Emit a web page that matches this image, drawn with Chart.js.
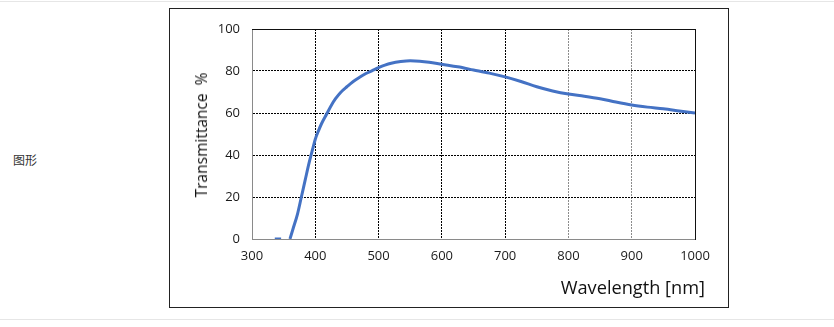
<!DOCTYPE html>
<html>
<head>
<meta charset="utf-8">
<script src="https://cdn.jsdelivr.net/npm/chart.js@4/dist/chart.umd.min.js"></script>
<style>
  body { margin: 0; background: #fff; width: 834px; height: 327px; position: relative; overflow: hidden; font-family: "Open Sans", "Noto Sans", sans-serif; }
  .rule { position: absolute; left: 0; width: 834px; height: 1px; background: #e6e6e6; }
  #label { position: absolute; left: 13px; top: 151px; font: 12px "Noto Sans CJK SC", sans-serif; color: #333; }
  #box { position: absolute; left: 169px; top: 8px; width: 558px; height: 298px; border: 1px solid #222; }
  #box canvas { position: absolute; left: 0; top: 0; }
  .ytitle { position: absolute; left: 31px; top: 126px; transform: translate(-50%, -50%) rotate(-90deg); white-space: nowrap; font-size: 15.5px; color: #111; }
  .xtitle { position: absolute; right: 23px; top: 268px; line-height: 20px; font-size: 18.2px; color: #111; white-space: nowrap; }
</style>
</head>
<body>
<div class="rule" style="top:1px"></div>
<div class="rule" style="top:319px"></div>
<div id="label">图形</div>
<div id="box">
  <canvas id="chart" width="558" height="298"></canvas>
  <div class="ytitle">Transmittance&nbsp; %</div>
  <div class="xtitle">Wavelength [nm]</div>
</div>
<script>
// transmittance curve
const wavelengths = [336, 346, 350, 360, 365, 372, 378, 384, 390, 396, 400, 405, 410, 418, 425, 432, 440, 450, 460, 470, 480, 490, 500, 510, 520, 535, 550, 565, 580, 600, 625, 650, 675, 700, 725, 750, 775, 800, 825, 850, 875, 900, 925, 950, 975, 1000];
const transmittance = [0, 0, null, 0, 5, 12, 20, 28, 36, 43, 47.5, 51.5, 55, 59.5, 63.5, 66.8, 69.8, 72.5, 75, 77, 78.8, 80.2, 81.6, 82.8, 83.7, 84.5, 84.9, 84.7, 84.2, 83.2, 82, 80.5, 79, 77.2, 75, 72.5, 70.5, 69, 68, 66.8, 65.2, 63.8, 62.8, 62, 61, 60];
const xTicks = [300, 400, 500, 600, 700, 800, 900, 1000];
const yTicks = [0, 20, 40, 60, 80, 100];

const points = wavelengths.map((w, i) => ({ x: w, y: transmittance[i] }));
const tickFont = { family: "'Open Sans', 'Noto Sans', sans-serif", size: 13 };

function gridColor(edges) {
  return ctx => {
    const v = ctx.tick && ctx.tick.value;
    if (edges.includes(v)) return "rgba(0,0,0,0)";
    if (v === 800 || v === 900) return "rgba(0,0,0,0.45)";
    return "#000";
  };
}

new Chart(document.getElementById("chart").getContext("2d"), {
  type: "line",
  data: {
    datasets: [{
      data: points,
      borderColor: "#4472c4",
      borderWidth: 3,
      pointRadius: 0,
      cubicInterpolationMode: "monotone",
      spanGaps: false
    }]
  },
  options: {
    responsive: false,
    animation: false,
    layout: { padding: { top: 20, right: 33, bottom: 0, left: 0 } },
    plugins: { legend: { display: false }, tooltip: { enabled: false } },
    scales: {
      x: {
        type: "linear",
        min: xTicks[0],
        max: xTicks[xTicks.length - 1],
        afterBuildTicks: s => { s.ticks = xTicks.map(v => ({ value: v })); },
        afterFit: s => { s.height = 68; },
        ticks: { font: tickFont, color: "#1a1a1a", padding: 9, callback: v => String(v) },
        grid: { color: gridColor([300, 1000]), lineWidth: 1, drawTicks: false },
        border: { color: "#8a8a8a", width: 1, dash: [2, 1] }
      },
      y: {
        min: yTicks[0],
        max: yTicks[yTicks.length - 1],
        afterBuildTicks: s => { s.ticks = yTicks.map(v => ({ value: v })); },
        afterFit: s => { s.width = 82; },
        ticks: { font: tickFont, color: "#1a1a1a", padding: 12, callback: v => String(v) },
        grid: { color: gridColor([0, 100]), lineWidth: 1, drawTicks: false },
        border: { color: "#8a8a8a", width: 1, dash: [2, 1] }
      },
      xTop: {
        type: "linear", position: "top", min: 300, max: 1000,
        afterFit: s => { s.height = 0; },
        ticks: { display: false },
        grid: { display: false, drawTicks: false },
        border: { color: "#111", width: 1 }
      },
      yRight: {
        type: "linear", position: "right", min: 0, max: 100,
        afterFit: s => { s.width = 0; },
        ticks: { display: false },
        grid: { display: false, drawTicks: false },
        border: { color: "#111", width: 1 }
      }
    }
  }
});
</script>
</body>
</html>
